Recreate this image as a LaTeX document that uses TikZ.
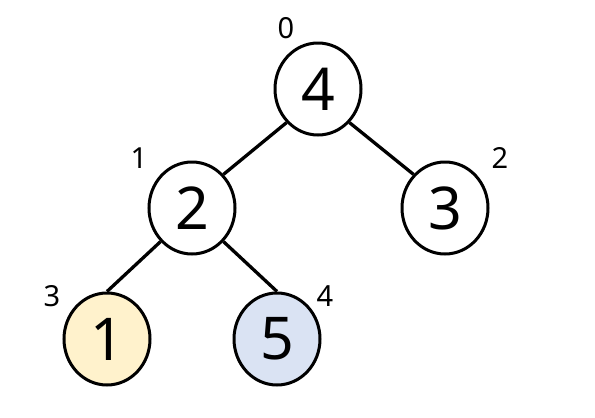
\documentclass[tikz,border=0pt]{standalone}
\usepackage{fontspec}
\setmainfont{Noto Sans}
\usetikzlibrary{shapes.geometric}
\definecolor{heapyellow}{HTML}{FFF2CC}
\definecolor{heapblue}{HTML}{DAE3F3}
\begin{document}
\begin{tikzpicture}[x=1pt,y=-1pt,
  heapnode/.style={ellipse,draw=black,line width=3pt,minimum width=86pt,minimum height=92pt,inner sep=0pt,font=\fontsize{59}{59}\selectfont},
  idx/.style={font=\fontsize{29}{29}\selectfont,inner sep=0pt},
  edge/.style={line width=3.3pt}]
\useasboundingbox (0,0) rectangle (595,418);
\node[heapnode] (n0) at (318,89) {4};
\node[heapnode] (n1) at (192,208) {2};
\node[heapnode] (n2) at (445,208) {3};
\node[heapnode,fill=heapyellow] (n3) at (107,339) {1};
\node[heapnode,fill=heapblue] (n4) at (277,339) {5};
\draw[edge] (n0.south west) -- (n1.north east);
\draw[edge] (n0.south east) -- (n2.north west);
\draw[edge] (n1.south west) -- (n3.north);
\draw[edge] (n1.south east) -- (n4.north);
\node[idx] (l0) at (286,28) {0};
\node[idx] (l1) at (139,158) {1};
\node[idx] (l2) at (500,158) {2};
\node[idx] (l3) at (52,296) {3};
\node[idx] (l4) at (325,296) {4};
\end{tikzpicture}
\end{document}
